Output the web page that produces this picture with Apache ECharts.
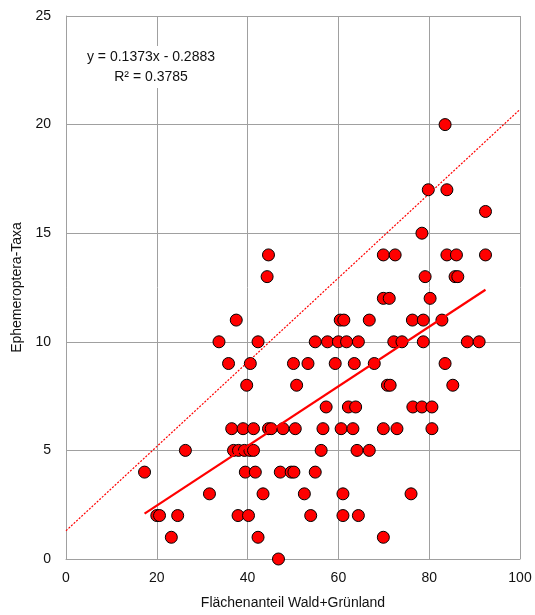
<!DOCTYPE html>
<html>
<head>
<meta charset="utf-8">
<script src="https://cdn.jsdelivr.net/npm/echarts@6/dist/echarts.min.js"></script>
<style>
  html, body { margin: 0; padding: 0; background: #fff; }
  #chart { width: 535px; height: 615px; }
</style>
</head>
<body>
<div id="chart"></div>
<script>
// Share of forest + grassland (%) per sampling site
const flaechenanteil = [
  83.5,
  79.8, 83.9,
  92.4,
  78.4,
  44.6, 69.9, 72.5, 83.9, 86.0, 92.4,
  44.3, 79.1, 85.7, 86.3,
  69.9, 71.2, 80.2,
  37.5, 60.4, 61.2, 66.8, 76.3, 78.7, 82.8,
  33.7, 42.3, 54.9, 57.6, 60.0, 61.8, 64.4, 72.2, 74.0, 78.7, 88.4, 91.0,
  35.8, 40.6, 50.1, 53.3, 59.3, 63.5, 67.9, 83.5,
  39.8, 50.8, 70.8, 71.4, 85.2,
  57.3, 62.2, 63.8, 76.4, 78.4, 80.6,
  36.5, 39.0, 41.3, 44.6, 45.2, 47.8, 50.5, 56.6, 60.6, 63.2, 69.9, 72.9, 80.6,
  26.3, 36.9, 38.0, 39.3, 40.5, 41.3, 56.2, 64.1, 66.8,
  17.3, 39.5, 41.7, 47.2, 49.6, 50.2, 54.9,
  31.6, 43.4, 52.5, 61.0, 76.0,
  20.0, 20.6, 24.6, 37.9, 40.2, 53.9, 61.0, 64.4,
  23.2, 42.3, 69.9,
  46.8
];

// Number of Ephemeroptera taxa per sampling site
const taxa = [
  20,
  17, 17,
  16,
  15,
  14, 14, 14, 14, 14, 14,
  13, 13, 13, 13,
  12, 12, 12,
  11, 11, 11, 11, 11, 11, 11,
  10, 10, 10, 10, 10, 10, 10, 10, 10, 10, 10, 10,
  9, 9, 9, 9, 9, 9, 9, 9,
  8, 8, 8, 8, 8,
  7, 7, 7, 7, 7, 7,
  6, 6, 6, 6, 6, 6, 6, 6, 6, 6, 6, 6, 6,
  5, 5, 5, 5, 5, 5, 5, 5, 5,
  4, 4, 4, 4, 4, 4, 4,
  3, 3, 3, 3, 3,
  2, 2, 2, 2, 2, 2, 2, 2,
  1, 1, 1,
  0
];

// Linear trend (least squares) and upper boundary line
const trendSlope = 0.1373;
const trendIntercept = -0.2883;
const rSquared = 0.3785;
const upperSlope = 0.194;
const upperIntercept = 1.3;

const xTicks = [0, 20, 40, 60, 80, 100];
const yTicks = [0, 5, 10, 15, 20, 25];

const points = flaechenanteil.map((x, i) => [x, taxa[i]]);
const xMin = Math.min(...flaechenanteil);
const xMax = Math.max(...flaechenanteil);
const trend = x => trendSlope * x + trendIntercept;
const upper = x => upperSlope * x + upperIntercept;

const FONT = '"Liberation Sans", Arial, sans-serif';
const GRID_COLOR = '#a0a0a0';
const TEXT_COLOR = '#111111';

const chart = echarts.init(document.getElementById('chart'), null, { renderer: 'canvas' });

const fmtTick = v => String(v);

chart.setOption({
  animation: false,
  backgroundColor: '#ffffff',
  grid: { left: 66, right: 15, top: 16, bottom: 54, containLabel: false },
  xAxis: {
    type: 'value',
    min: xTicks[0],
    max: xTicks[xTicks.length - 1],
    interval: xTicks[1] - xTicks[0],
    name: 'Flächenanteil Wald+Grünland',
    nameLocation: 'middle',
    nameGap: 37,
    nameTextStyle: { fontFamily: FONT, fontSize: 14, color: TEXT_COLOR },
    axisLine: { show: true, lineStyle: { color: GRID_COLOR, width: 1 } },
    axisTick: { show: false },
    axisLabel: { fontFamily: FONT, fontSize: 14, color: TEXT_COLOR, margin: 12, formatter: fmtTick },
    splitLine: { show: true, lineStyle: { color: GRID_COLOR, width: 1 } }
  },
  yAxis: {
    type: 'value',
    min: yTicks[0],
    max: yTicks[yTicks.length - 1],
    interval: yTicks[1] - yTicks[0],
    name: 'Ephemeroptera-Taxa',
    nameLocation: 'middle',
    nameGap: 41,
    nameRotate: 90,
    nameTextStyle: { fontFamily: FONT, fontSize: 14, color: TEXT_COLOR },
    axisLine: { show: true, lineStyle: { color: GRID_COLOR, width: 1 } },
    axisTick: { show: false },
    axisLabel: { fontFamily: FONT, fontSize: 14, color: TEXT_COLOR, margin: 15, formatter: fmtTick },
    splitLine: { show: true, lineStyle: { color: GRID_COLOR, width: 1 } }
  },
  series: [
    {
      name: 'Standorte',
      type: 'scatter',
      data: points,
      symbol: 'circle',
      symbolSize: 12,
      itemStyle: { color: '#ff0000', borderColor: '#000000', borderWidth: 1, opacity: 1 },
      emphasis: { disabled: true },
      z: 3
    },
    {
      name: 'Obergrenze',
      type: 'line',
      data: [[xTicks[0], upper(xTicks[0])], [xTicks[xTicks.length - 1], upper(xTicks[xTicks.length - 1])]],
      symbol: 'none',
      lineStyle: { color: '#ff0000', width: 1.2, type: [2, 1.5] },
      z: 4
    },
    {
      name: 'Trend',
      type: 'line',
      data: [[xMin, trend(xMin)], [xMax, trend(xMax)]],
      symbol: 'none',
      lineStyle: { color: '#ff0000', width: 2.2 },
      z: 5
    }
  ],
  graphic: [
    {
      type: 'text',
      x: 151,
      y: 67,
      z: 10,
      style: {
        text: 'y = ' + trendSlope.toFixed(4) + 'x - ' + Math.abs(trendIntercept).toFixed(4) +
              '\nR² = ' + rSquared.toFixed(4),
        fontFamily: FONT,
        fontSize: 14,
        lineHeight: 20,
        fill: TEXT_COLOR,
        align: 'center',
        verticalAlign: 'middle',
        backgroundColor: '#ffffff',
        padding: [1, 4]
      }
    }
  ]
});
</script>
</body>
</html>
